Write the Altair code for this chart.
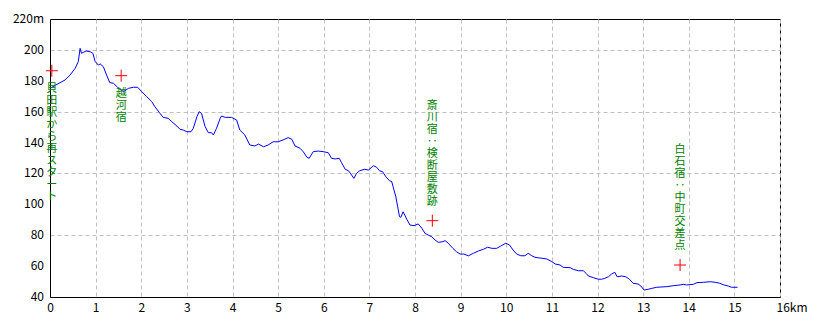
import altair as alt
import pandas as pd

# Elevation profile (distance in km, elevation in m)
dist_km = [
    0.00, 0.11, 0.26, 0.33, 0.44, 0.55, 0.62, 0.66, 0.69, 0.79, 0.88, 0.94, 0.99,
    1.06, 1.10, 1.17, 1.24, 1.31, 1.39, 1.48, 1.53, 1.61, 1.72, 1.83, 1.92,
    2.01, 2.12, 2.23, 2.30, 2.40, 2.48, 2.59, 2.67, 2.78, 2.85, 2.92,
    3.00, 3.09, 3.14, 3.22, 3.27, 3.32, 3.40, 3.47, 3.54, 3.58, 3.65, 3.73, 3.76, 3.84, 3.98,
    4.09, 4.16, 4.27, 4.38, 4.49, 4.57, 4.68, 4.78, 4.89,
    5.00, 5.11, 5.22, 5.30, 5.37, 5.48, 5.55, 5.63, 5.68, 5.74, 5.77, 5.88, 5.99,
    6.10, 6.17, 6.25, 6.34, 6.39, 6.47, 6.54, 6.61, 6.66, 6.72, 6.79, 6.90, 6.98,
    7.09, 7.16, 7.22, 7.29, 7.36, 7.44, 7.49, 7.52, 7.58, 7.62, 7.66, 7.69, 7.74, 7.82, 7.89, 7.98,
    8.07, 8.15, 8.22, 8.29, 8.37, 8.44, 8.51, 8.61, 8.66, 8.73, 8.83, 8.91, 8.99,
    9.07, 9.17, 9.28, 9.39, 9.50, 9.59, 9.69, 9.79, 9.88, 9.99,
    10.07, 10.15, 10.23, 10.32, 10.41, 10.48, 10.56, 10.63, 10.72, 10.78, 10.89,
    11.00, 11.07, 11.18, 11.25, 11.40, 11.47, 11.58, 11.69, 11.75, 11.80, 11.91,
    12.02, 12.09, 12.16, 12.24, 12.31, 12.38, 12.43, 12.53, 12.62, 12.70, 12.78, 12.89, 12.95,
    13.02, 13.11, 13.19, 13.30, 13.52, 13.66, 13.81, 13.88, 13.95,
    14.10, 14.18, 14.32, 14.47, 14.58, 14.68, 14.77, 14.87, 14.94, 15.07,
]
elev_m = [
    175.0, 177.0, 179.4, 180.5, 183.7, 188.0, 192.4, 201.0, 197.8, 199.3, 198.8, 197.8, 192.4,
    190.2, 190.9, 189.1, 183.7, 178.8, 178.4, 175.8, 174.5, 173.0, 175.1, 175.8, 175.8,
    173.0, 169.7, 166.5, 163.2, 159.3, 156.3, 155.7, 153.5, 150.7, 148.6, 148.1,
    147.0, 147.0, 149.2, 156.7, 160.0, 158.9, 150.3, 146.4, 146.4, 144.9, 149.2, 155.7, 157.2, 156.3, 156.3,
    154.6, 148.1, 144.9, 138.4, 137.8, 139.0, 137.3, 138.4, 140.5,
    140.5, 141.7, 143.2, 142.1, 137.8, 136.3, 134.1, 130.5, 129.8, 132.6, 134.1, 134.5, 134.1,
    133.4, 129.8, 129.4, 129.8, 127.0, 122.7, 121.8, 119.0, 116.8, 120.1, 121.8, 122.7, 122.2,
    125.0, 124.0, 121.8, 121.1, 117.9, 115.3, 114.7, 111.4, 104.9, 98.5, 92.0, 91.6, 95.2, 90.3, 86.6, 86.2,
    87.3, 84.5, 81.2, 80.1, 79.0, 76.9, 75.4, 75.8, 76.5, 74.8, 71.5, 69.3, 67.8,
    67.8, 66.7, 68.3, 69.8, 70.9, 72.2, 71.5, 71.5, 73.0, 74.8,
    73.7, 70.4, 67.8, 66.7, 66.7, 68.3, 66.7, 65.7, 65.3, 65.1, 64.6,
    62.9, 61.4, 60.7, 59.2, 59.0, 57.9, 57.0, 57.0, 55.3, 53.6, 52.5,
    51.5, 51.5, 52.1, 53.1, 54.9, 56.0, 53.1, 53.6, 53.1, 51.5, 48.9, 48.4, 47.1,
    44.5, 45.0, 45.6, 46.3, 46.7, 47.3, 47.8, 48.2, 47.8,
    48.2, 49.3, 49.5, 49.9, 49.5, 48.9, 47.8, 47.1, 46.3, 46.3,
]

# Waypoint markers
mark_km = [0.04, 1.56, 8.38, 13.81]
mark_elev = [186.5, 183.3, 89.4, 60.7]
mark_names = ["貝田駅から再スタート", "越河宿", "斎川宿‥検断屋敷跡", "白石宿‥中町交差点"]
mark_side = ["below", "below", "above", "above"]

x_ticks = list(range(0, 17))
y_ticks = list(range(40, 221, 20))
y_tick_labels = ["40", "60", "80", "100", "120", "140", "160", "180", "200", "220m"]

profile = pd.DataFrame({"km": dist_km, "elev": elev_m})
marks = pd.DataFrame({
    "km": mark_km,
    "elev": mark_elev,
    "label": ["\n".join(list(s)) for s in mark_names],
    "side": mark_side,
})
ylab = pd.DataFrame({"elev": y_ticks, "label": y_tick_labels})

FONT = "Noto Sans CJK JP"

x_enc = alt.X(
    "km:Q",
    scale=alt.Scale(domain=[0, 16], nice=False, zero=False),
    axis=alt.Axis(
        values=x_ticks, title=None, grid=True, gridColor="#c0c0c0", gridDash=[4, 3],
        gridWidth=1, ticks=False, domainColor="black", domainWidth=1,
        labelFont=FONT, labelFontSize=12, labelColor="black", labelPadding=5,
        labelFlush=False, labelOverlap=False,
        labelAlign={"condition": {"test": "datum.value == 16", "value": "left"}, "value": "center"},
        labelOffset={"condition": {"test": "datum.value == 16", "value": -4}, "value": 0},
        labelExpr="datum.value == 16 ? '16km' : datum.label",
    ),
)
y_enc = alt.Y(
    "elev:Q",
    scale=alt.Scale(domain=[40, 220], nice=False, zero=False),
    axis=alt.Axis(
        values=y_ticks, title=None, grid=True, gridColor="#c0c0c0", gridDash=[4, 3],
        gridWidth=1, ticks=False, domainColor="black", domainWidth=1, labels=False,
    ),
)

line = alt.Chart(profile).mark_line(color="#0000ff", strokeWidth=1).encode(x=x_enc, y=y_enc)

y_labels = alt.Chart(ylab).mark_text(
    align="right", baseline="middle", font=FONT, fontSize=12, color="black",
).encode(x=alt.value(-6), y="elev:Q", text="label:N")

crosses = alt.Chart(marks).mark_point(
    shape="M-1,0L1,0M0,-1L0,1", size=144, filled=False, color="#ff0000",
    strokeWidth=1, opacity=1,
).encode(x="km:Q", y="elev:Q")

text_below = alt.Chart(marks).transform_filter(alt.datum.side == "below").mark_text(
    align="center", baseline="top", dy=12, lineBreak="\n", font=FONT,
    fontSize=11, lineHeight=12, color="#008000",
).encode(x="km:Q", y="elev:Q", text="label:N")

text_above = alt.Chart(marks).transform_filter(alt.datum.side == "above").mark_text(
    align="center", baseline="top", dy=-121, lineBreak="\n", font=FONT,
    fontSize=11, lineHeight=12, color="#008000",
).encode(x="km:Q", y="elev:Q", text="label:N")

chart = alt.layer(line, y_labels, crosses, text_below, text_above).properties(
    width=730,
    height=278,
    padding={"left": 50, "top": 19, "right": 40, "bottom": 31},
    autosize=alt.AutoSizeParams(type="none"),
    background="white",
).configure_view(stroke="black", strokeWidth=1)

chart.save("out.html", embed_options={"renderer": "svg", "actions": False})
